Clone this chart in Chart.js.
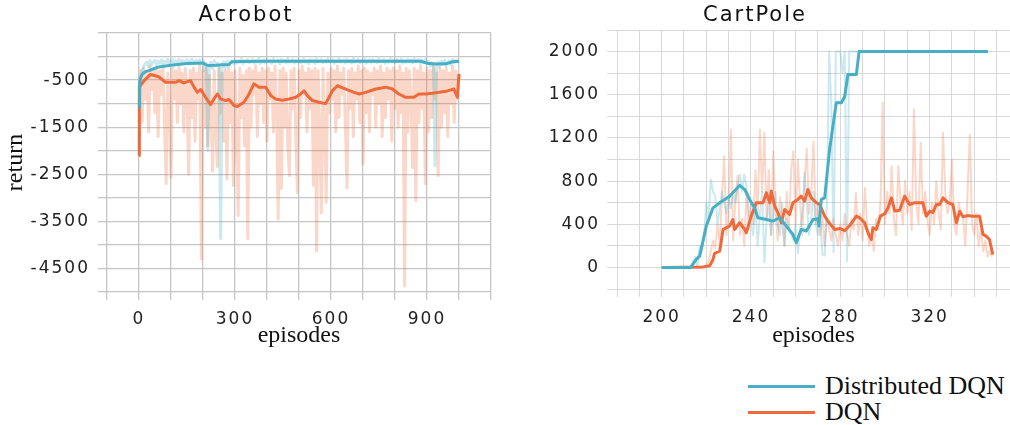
<!DOCTYPE html>
<html><head><meta charset="utf-8">
<script src="https://cdn.jsdelivr.net/npm/chart.js@4.4.0/dist/chart.umd.min.js"></script>
<style>
html,body{margin:0;padding:0;background:#fff;width:1010px;height:425px;overflow:hidden;position:relative}
#c1{position:absolute;left:0;top:0}
#c2{position:absolute;left:500px;top:0}
#legend{position:absolute;left:748px;top:373px;font-family:'Liberation Serif','Times New Roman',serif;font-size:26px;color:#111;line-height:26px}
.row{display:flex;align-items:center;height:26px;white-space:nowrap}
.sw{width:67px;height:3px;margin-right:10px}
</style></head><body>
<canvas id="c1" width="500" height="360"></canvas>
<canvas id="c2" width="510" height="360"></canvas>
<div id="legend"></div>
<script>
// ---------- labels ----------
const seriesNames = ['Distributed DQN', 'DQN'];
const acroXTicks = [0, 300, 600, 900];
const acroYTicks = [-500, -1500, -2500, -3500, -4500];
const cartXTicks = [200, 240, 280, 320];
const cartYTicks = [0, 400, 800, 1200, 1600, 2000];

// ---------- Acrobot: smoothed curves ----------
const acroSmoothDistEp = [0,2,5,10,20,31,45,62,94,120,150,177,200,210,219,240,260,281,290,320,400,500,600,700,800,880,906,930,959,980,1000];
const acroSmoothDist   = [-1080,-550,-450,-380,-320,-300,-260,-220,-190,-170,-150,-140,-135,-180,-190,-185,-175,-170,-110,-105,-100,-100,-100,-100,-100,-100,-150,-160,-155,-110,-100];
const acroSmoothDqnEp = [0,1,16,36,62,83,115,125,140,161,172,182,193,208,224,234,245,255,271,281,297,307,328,344,359,375,396,412,427,448,469,490,505,516,526,542,562,583,594,604,620,646,672,688,708,740,771,792,812,833,859,875,896,917,938,964,984,995,1000];
const acroSmoothDqn   = [-2100,-650,-510,-380,-430,-545,-545,-510,-560,-510,-650,-760,-700,-865,-1020,-900,-795,-900,-935,-910,-1040,-1060,-970,-795,-580,-650,-650,-830,-900,-930,-900,-865,-795,-730,-830,-935,-970,-1000,-865,-730,-620,-690,-760,-795,-760,-690,-650,-690,-795,-865,-865,-795,-795,-780,-760,-730,-690,-865,-370];

// ---------- Acrobot: raw returns, every 5th episode (0..1000) ----------
const acroRawEp = Array.from({length: 201}, (_, i) => i * 5);
const acroRawDqn = [
-2100,-300,-1400,-250,-900,-350,-1600,-200,-700,-300,
-1200,-250,-1700,-300,-800,-200,-1500,-2700,-350,-1100,
-2570,-250,-900,-300,-1400,-200,-1000,-350,-1600,-250,
-700,-2500,-300,-1300,-250,-1800,-350,-900,-200,-4300,
-300,-1500,-250,-1900,-400,-1100,-2430,-300,-1600,-2340,
-250,-1200,-350,-1800,-300,-2600,-200,-1400,-350,-2740,
-300,-1700,-3380,-250,-1300,-400,-1900,-300,-3870,-250,
-1500,-300,-800,-200,-1700,-350,-1000,-250,-1400,-300,
-1800,-250,-900,-350,-1600,-200,-1200,-3450,-300,-2800,
-250,-1500,-350,-1900,-2530,-300,-1100,-250,-1700,-2890,
-300,-1300,-200,-800,-350,-1600,-250,-1100,-300,-2740,
-250,-4130,-300,-1800,-3320,-250,-1500,-3100,-350,-1200,
-250,-900,-300,-1600,-200,-1300,-350,-800,-250,-1500,
-2790,-300,-1100,-250,-1700,-350,-900,-200,-1400,-300,
-2280,-250,-1200,-300,-1600,-350,-800,-250,-1500,-300,
-1000,-200,-1700,-350,-1300,-250,-900,-300,-1800,-250,
-1100,-300,-1500,-200,-1200,-350,-4870,-250,-1600,-300,
-900,-2360,-250,-3060,-300,-1400,-200,-1100,-350,-2700,
-250,-1600,-300,-1300,-200,-900,-350,-2530,-250,-1500,
-300,-1200,-250,-1700,-350,-1000,-200,-1400,-300,-900,
-380];
const acroRawDist = [
-1100,-450,-280,-200,-150,-120,-220,-90,-160,-110,
-80,-180,-100,-140,-70,-160,-90,-130,-60,-150,
-100,-70,-170,-90,-120,-60,-150,-80,-110,-140,
-70,-130,-90,-60,-160,-100,-80,-140,-70,-110,
-60,-300,-150,-2000,-200,-120,-250,-90,-180,-140,
-220,-3870,-160,-110,-250,-100,-170,-130,-90,-150,
-60,-140,-90,-120,-50,-150,-80,-110,-60,-130,
-90,-60,-140,-80,-120,-50,-150,-90,-70,-130,
-60,-110,-80,-140,-50,-120,-90,-70,-150,-60,
-100,-80,-130,-50,-120,-90,-60,-140,-80,-110,
-60,-130,-90,-50,-120,-80,-150,-60,-100,-70,
-140,-50,-110,-90,-60,-130,-80,-120,-50,-100,
-90,-60,-140,-80,-110,-50,-120,-90,-70,-130,
-60,-100,-80,-140,-50,-120,-90,-60,-130,-80,
-110,-50,-140,-90,-70,-120,-60,-100,-80,-130,
-50,-110,-90,-60,-140,-80,-120,-50,-100,-70,
-130,-60,-110,-90,-50,-140,-80,-120,-60,-100,
-70,-130,-50,-110,-90,-60,-140,-80,-120,-60,
-150,-100,-200,-130,-250,-2320,-180,-120,-220,-100,
-160,-80,-200,-120,-90,-170,-60,-130,-80,-110,
-90];

// ---------- CartPole: smoothed curves ----------
const cartSmoothDistEp = [200,213,215.5,217,220,223,226,230.4,234.9,237.2,239.4,241.6,243.1,246.9,249.8,252.8,255.8,258.8,260.3,262.5,264.8,267.8,270,270.4,271.5,273,275.2,278.2,280.5,282,283.4,287.2,288.4,346.1];
const cartSmoothDist   = [0,0,74,105,383,552,599,660,760,722,630,552,460,444,429,460,383,306,228,352,337,444,450,383,630,645,1092,1525,1525,1586,1787,1787,2000,2000];
const cartSmoothDqnEp = [202,218.5,221.5,223,223.7,226,227.5,230.4,231.9,232.7,234.9,237.2,237.9,240.1,242.4,245.4,246.9,248.4,249.1,250.6,252.1,253.6,255.1,257.3,258.8,261,262.5,264,265.5,267,269.3,270.8,273,275,277.5,280,282,284,285.7,287.2,288.7,290.9,292.4,293.9,294.6,296.1,298,300,301.4,302.9,304.4,306.6,308.8,311,313,315,317,318.5,320,321.5,323,324.5,326,328.2,330.4,332,333.5,335,337,339.4,342.4,343.9,345.3,346.8,348.3];
const cartSmoothDqn   = [0,5,15,74,130,150,352,383,444,352,414,352,321,475,599,600,691,599,707,568,506,414,537,491,599,630,660,614,722,645,599,583,475,414,352,360,340,383,430,475,460,414,321,259,367,352,475,500,552,645,522,530,660,583,599,599,599,475,520,510,583,583,645,600,583,414,520,470,480,475,475,306,290,259,120];

// ---------- CartPole: raw returns, one per episode ----------
const cartRawDqnEp = Array.from({length: 149}, (_, i) => 200 + i);
const cartRawDqn = [
0,0,0,0,0,0,0,0,0,0,
0,0,0,0,0,0,0,0,0,0,
20,60,150,250,180,400,220,650,1030,300,
500,1278,250,600,850,300,450,200,700,350,
600,400,900,500,1278,700,1250,450,900,300,
1077,500,250,650,400,200,700,350,900,1077,
400,1000,600,300,800,1100,500,700,1170,400,
600,300,500,200,450,350,250,450,300,200,
400,250,500,300,200,450,350,690,300,500,
250,738,400,200,300,150,450,350,600,1525,
400,700,500,938,450,300,938,600,400,800,
500,700,350,1463,600,400,1155,500,700,450,
300,600,400,800,500,350,1247,700,500,600,
1000,400,300,600,500,450,200,700,1232,400,
300,500,200,350,150,250,100,150,100];
const cartRawDistEp = Array.from({length: 90}, (_, i) => 200 + i);
const cartRawDist = [
0,0,0,0,0,0,0,0,0,0,
0,0,0,0,50,100,0,200,150,300,
600,450,815,700,662,400,550,700,600,500,
650,550,700,600,750,861,700,861,750,500,
400,300,600,200,500,700,46,450,600,300,
500,700,400,300,600,200,450,350,300,250,
400,130,350,500,880,600,300,450,700,400,
300,500,120,110,600,2000,1500,140,2000,2000,
2000,1800,2000,58,2000,2000,2000,2000,2000,2000];

// ---------- styles ----------
const BLUE = '#46AFC6', ORANGE = '#EF6A3A';
const BLUE_PALE = 'rgba(70,175,198,0.28)', ORANGE_PALE = 'rgba(239,106,58,0.27)';
const SANS = "'DejaVu Sans', sans-serif";
const SERIF = "'Liberation Serif', 'Times New Roman', serif";
const TXT = '#222';

function pts(xs, ys) { return ys.map((y, i) => ({x: xs[i], y: y})); }

const spacingPlugin = {
  id: 'spacing',
  beforeDraw(chart, args, opts) {
    chart.ctx.letterSpacing = (opts && opts.ls) || '0px';
    Object.values(chart.scales).forEach(s => {
      if (!s._titlePatched) {
        const orig = s.drawTitle;
        s.drawTitle = function () {
          const c = this.ctx; const prev = c.letterSpacing;
          c.letterSpacing = '0px'; orig.call(this); c.letterSpacing = prev;
        };
        s._titlePatched = true;
      }
    });
  }
};

function datasets(smDistEp, smDist, smDqnEp, smDqn, rDistEp, rDist, rDqnEp, rDqn, rawW) {
  return [
    {label: seriesNames[0], data: pts(smDistEp, smDist), borderColor: BLUE, borderWidth: 3, order: 0},
    {label: seriesNames[1], data: pts(smDqnEp, smDqn), borderColor: ORANGE, borderWidth: 3, order: 1},
    {label: seriesNames[0] + ' raw', data: pts(rDistEp, rDist), borderColor: BLUE_PALE, borderWidth: rawW, order: 2},
    {label: seriesNames[1] + ' raw', data: pts(rDqnEp, rDqn), borderColor: ORANGE_PALE, borderWidth: rawW, order: 3}
  ];
}

function makeChart(id, title, ds, o) {
  return new Chart(document.getElementById(id), {
    type: 'line',
    data: {datasets: ds},
    options: {
      responsive: false, animation: false,
      layout: {padding: {left: 0, right: o.padRight, top: 0, bottom: 0}},
      elements: {point: {radius: 0, hoverRadius: 0}, line: {tension: 0, borderJoinStyle: 'round', fill: false}},
      plugins: {
        legend: {display: false}, tooltip: {enabled: false},
        title: {display: true, text: title, color: '#111', font: {family: SANS, size: 21, weight: 'normal', lineHeight: 1.2}, padding: o.titlePad},
        spacing: {ls: '2px'}
      },
      scales: {
        x: {
          type: 'linear', min: o.xMin, max: o.xMax,
          afterFit(s) { s.height = o.xH; },
          ticks: {stepSize: o.xStep, includeBounds: false, autoSkip: false, maxRotation: 0, padding: o.xTickPad, color: TXT, font: {family: SANS, size: 17},
            callback: v => o.xTicks.includes(v) ? String(v) : ''},
          grid: {color: o.grid, tickLength: 8, lineWidth: o.gridW},
          border: {display: false},
          title: {display: true, text: 'episodes', color: '#111', font: {family: SERIF, size: 24}, padding: {top: 0, bottom: 10}}
        },
        y: {
          type: 'linear', min: o.yMin, max: o.yMax,
          afterFit(s) { s.width = o.yW; },
          ticks: {stepSize: o.yStep, autoSkip: false, padding: o.yTickPad, color: TXT, font: {family: SANS, size: 17},
            callback: v => o.yTicks.includes(v) ? String(v) : ''},
          grid: {color: o.grid, tickLength: o.yTickLen, lineWidth: o.gridW},
          border: {display: false},
          title: {display: o.yTitle !== '', text: o.yTitle, color: '#111', font: {family: SERIF, size: 24}, padding: {top: 1, bottom: 0}}
        }
      }
    },
    plugins: [spacingPlugin]
  });
}

const chartA = makeChart('c1', 'Acrobot',
  datasets(acroSmoothDistEp, acroSmoothDist, acroSmoothDqnEp, acroSmoothDqn, acroRawEp, acroRawDist, acroRawEp, acroRawDqn, 3),
  {padRight: 8, titlePad: {top: 3, bottom: 4.8}, xMin: -100, xMax: 1100, xStep: 100, xTicks: acroXTicks, xH: 68, xTickPad: 9,
   yMin: -5000, yMax: 500, yStep: 500, yTicks: acroYTicks, yW: 107, yTickPad: 8, yTickLen: 9, grid: '#c6c6c6', gridW: 1.3, yTitle: 'return'});

const chartB = makeChart('c2', 'CartPole',
  datasets(cartSmoothDistEp, cartSmoothDist, cartSmoothDqnEp, cartSmoothDqn, cartRawDistEp, cartRawDist, cartRawDqnEp, cartRawDqn, 2),
  {padRight: 0, titlePad: {top: 3, bottom: 1.8}, xMin: 180, xMax: 356, xStep: 10, xTicks: cartXTicks, xH: 71, xTickPad: 10,
   yMin: -200, yMax: 2200, yStep: 200, yTicks: cartYTicks, yW: 117, yTickPad: 7, yTickLen: 10, grid: '#d8d8d8', gridW: 1, yTitle: ''});

// HTML legend built from the chart's main datasets
const legendEl = document.getElementById('legend');
chartB.data.datasets.slice(0, 2).forEach(d => {
  const row = document.createElement('div'); row.className = 'row';
  const sw = document.createElement('span'); sw.className = 'sw'; sw.style.background = d.borderColor;
  const tx = document.createElement('span'); tx.textContent = d.label;
  row.appendChild(sw); row.appendChild(tx); legendEl.appendChild(row);
});
</script>
</body></html>
